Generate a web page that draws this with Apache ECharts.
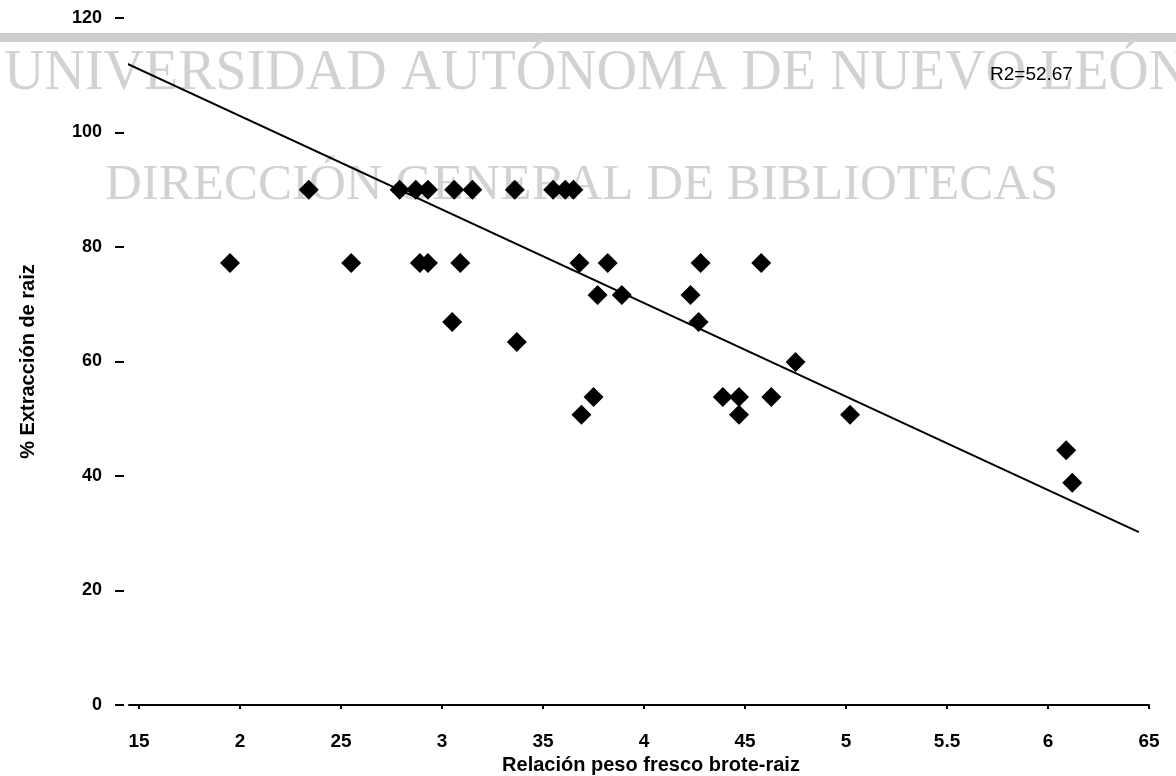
<!DOCTYPE html>
<html>
<head>
<meta charset="utf-8">
<script src="https://cdn.jsdelivr.net/npm/echarts@6/dist/echarts.min.js"></script>
<style>
  html, body { margin: 0; padding: 0; background: #fff; }
  #chart { width: 1176px; height: 776px; }
</style>
</head>
<body>
<div id="chart"></div>
<script>
// Relación peso fresco brote-raíz (x) vs % extracción de raíz (y)
const ratioValues = [
  2.34, 2.79, 2.87, 2.93, 3.06, 3.15, 3.36, 3.55, 3.61, 3.65,
  1.95, 2.55, 2.89, 2.93, 3.09, 3.68, 3.82, 4.28, 4.58,
  3.77, 3.89, 4.23,
  3.05, 4.27,
  3.37,
  4.75,
  3.75, 4.39, 4.47, 4.63,
  3.69, 4.47, 5.02,
  6.09, 6.12
];
const extractionValues = [
  90, 90, 90, 90, 90, 90, 90, 90, 90, 90,
  77.2, 77.2, 77.2, 77.2, 77.2, 77.2, 77.2, 77.2, 77.2,
  71.6, 71.6, 71.6,
  66.9, 66.9,
  63.4,
  59.9,
  53.8, 53.8, 53.8, 53.8,
  50.7, 50.7, 50.7,
  44.5, 38.8
];
// Regression line end points (x, y)
const trendX = [1.41, 6.45];
const trendY = [112.5, 30.2];
const r2Text = 'R2=52.67';

const xTicks = [1.5, 2, 2.5, 3, 3.5, 4, 4.5, 5, 5.5, 6, 6.5];
const xTickLabels = ['15', '2', '25', '3', '35', '4', '45', '5', '5.5', '6', '65'];
const yTicks = [0, 20, 40, 60, 80, 100, 120];

const xTitle = 'Relación peso fresco brote-raiz';
const yTitle = '% Extracción de raiz';
const bannerLine1 = 'UNIVERSIDAD AUTÓNOMA DE NUEVO LEÓN';
const bannerLine2 = 'DIRECCIÓN GENERAL DE BIBLIOTECAS';

const points = ratioValues.map((x, i) => [x, extractionValues[i]]);
const trend = trendX.map((x, i) => [x, trendY[i]]);

const chart = echarts.init(document.getElementById('chart'));
const labelFont = { fontFamily: 'Liberation Sans, Arial, sans-serif', fontWeight: 'bold', color: '#000' };

chart.setOption({
  backgroundColor: '#fff',
  animation: false,
  title: {
    text: r2Text,
    left: 985,
    top: 60,
    textStyle: { fontFamily: 'Liberation Sans, Arial, sans-serif', fontSize: 19, fontWeight: 'normal', color: '#000' }
  },
  graphic: [
    { type: 'rect', z: -10, shape: { x: 0, y: 33, width: 1176, height: 9 }, style: { fill: '#cccccc' } },
    { type: 'text', z: -10, x: 4, y: 102,
      style: { text: bannerLine1, font: '56px "Liberation Serif", serif', fill: '#d2d2d2', textVerticalAlign: 'bottom' } },
    { type: 'text', z: -10, x: 105, y: 211,
      style: { text: bannerLine2, font: '51px "Liberation Serif", serif', fill: '#d2d2d2', textVerticalAlign: 'bottom' } }
  ],
  grid: { left: 129, right: 27, top: 18, bottom: 71, outerBoundsMode: 'none', containLabel: false },
  xAxis: {
    type: 'value',
    min: 1.45,
    max: xTicks[xTicks.length - 1],
    splitLine: { show: false },
    axisLine: { show: true, lineStyle: { color: '#000', width: 2 } },
    axisTick: { show: true, length: 4, customValues: xTicks, lineStyle: { color: '#000', width: 2 } },
    axisLabel: {
      ...labelFont, fontSize: 19, margin: 27,
      customValues: xTicks,
      formatter: v => xTickLabels[xTicks.findIndex(t => Math.abs(t - v) < 1e-6)]
    },
    name: xTitle,
    nameLocation: 'middle',
    nameGap: 48,
    nameTextStyle: { ...labelFont, fontSize: 20, padding: [0, 0, 0, 24] }
  },
  yAxis: {
    type: 'value',
    min: yTicks[0],
    max: yTicks[yTicks.length - 1],
    interval: 20,
    offset: 5,
    splitLine: { show: false },
    axisLine: { show: false },
    axisTick: { show: true, length: 9, lineStyle: { color: '#000', width: 2 } },
    axisLabel: { ...labelFont, fontSize: 18, margin: 22 },
    name: yTitle,
    nameLocation: 'middle',
    nameGap: 86,
    nameRotate: 90,
    nameTextStyle: { ...labelFont, fontSize: 20 }
  },
  series: [
    {
      type: 'line',
      data: trend,
      symbol: 'none',
      clip: false,
      lineStyle: { color: '#000', width: 2 },
      z: 2
    },
    {
      type: 'scatter',
      data: points,
      symbol: 'diamond',
      symbolSize: [20, 20],
      itemStyle: { color: '#000', opacity: 1 },
      z: 3
    }
  ]
});
</script>
</body>
</html>
